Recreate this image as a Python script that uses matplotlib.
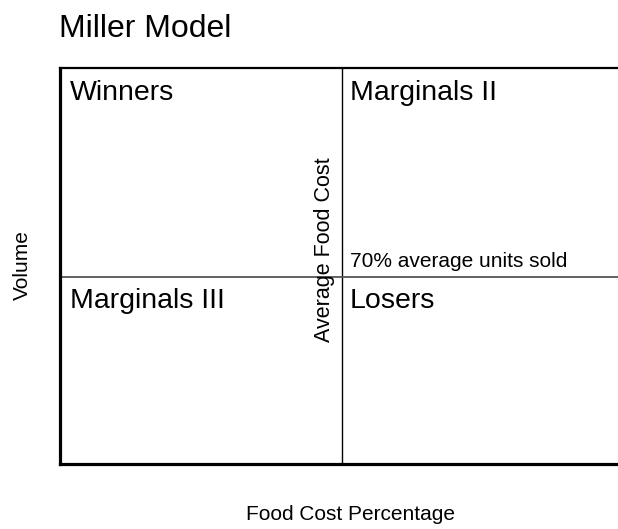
import matplotlib
matplotlib.use("Agg")
import matplotlib.pyplot as plt

plt.rcParams['font.family'] = ['Liberation Sans', 'DejaVu Sans']

# chart data
title = 'Miller Model'
x_label = 'Food Cost Percentage'
y_label = 'Volume'
x_range = (0, 100)
y_range = (0, 1.48)
avg_food_cost = 50      # vertical divider
units_sold_cut = 0.7    # horizontal divider (70% average units sold)
quadrants = ['Winners', 'Marginals II', 'Marginals III', 'Losers']
divider_labels = ['Average Food Cost', '70% average units sold']

fig = plt.figure(figsize=(6.18, 5.29), dpi=100)
W, H = 618, 529
# axes runs past the right edge of the figure, as in the reference
ax = fig.add_axes([60 / W, 1 - 464 / H, 564 / W, 396 / H])
ax.set_xlim(*x_range)
ax.set_ylim(*y_range)
ax.set_xticks([])
ax.set_yticks([])

ax.spines['left'].set_linewidth(2.3)
ax.spines['bottom'].set_linewidth(2.3)
ax.spines['top'].set_linewidth(1.6)
ax.spines['right'].set_visible(False)

# dividers
ax.axvline(avg_food_cost, color='black', lw=1.0)
ax.axhline(units_sold_cut, color='#555555', lw=1.3)

# quadrant names
qs = 20.5
left_x = 1.77
right_x = avg_food_cost + 1.42
top_y = 1.36
low_y = units_sold_cut - 0.117
ax.text(left_x, top_y, quadrants[0], fontsize=qs, va='baseline', ha='left')
ax.text(right_x, top_y, quadrants[1], fontsize=qs, va='baseline', ha='left')
ax.text(left_x, low_y, quadrants[2], fontsize=qs, va='baseline', ha='left')
ax.text(right_x, low_y, quadrants[3], fontsize=qs, va='baseline', ha='left')

# divider labels
ax.text(avg_food_cost - 1.3, 0.80, divider_labels[0], fontsize=15.5,
        rotation=90, ha='right', va='center')
ax.text(right_x, units_sold_cut + 0.036, divider_labels[1],
        fontsize=15, ha='left', va='baseline')

fig.text(59 / W, 1 - 37 / H, title, fontsize=23, ha='left', va='baseline')
fig.text(351 / W, 1 - 515 / H, x_label, fontsize=15, ha='center', va='center')
fig.text(22 / W, 1 - 265 / H, y_label, fontsize=15, rotation=90,
         ha='center', va='center')

fig.savefig('out.png', dpi=100)
